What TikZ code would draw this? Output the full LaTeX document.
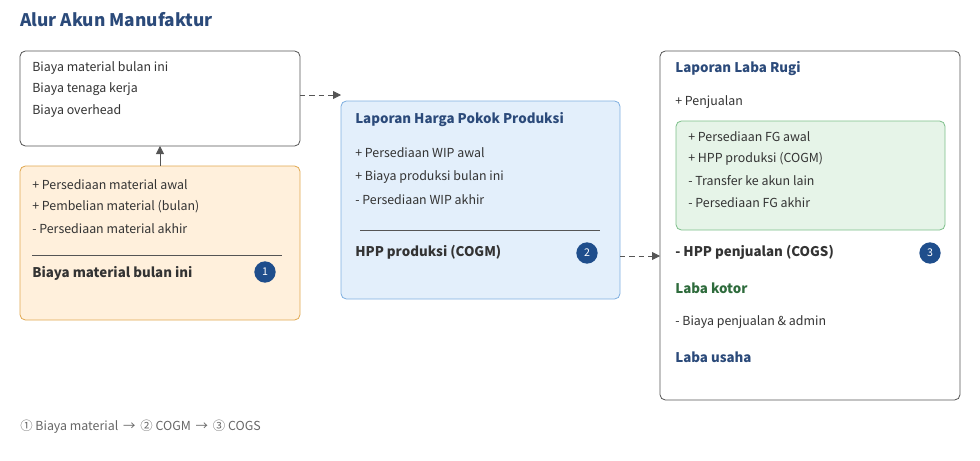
\documentclass[tikz,border=0pt]{standalone}
\usepackage{fontspec}
\setmainfont{Noto Sans CJK JP}
\usetikzlibrary{arrows.meta}
\definecolor{ttl}{HTML}{2B4A7A}
\definecolor{txt}{HTML}{333333}
\definecolor{bdr}{HTML}{555555}
\definecolor{orf}{HTML}{FFF0DC}
\definecolor{ord}{HTML}{E0A850}
\definecolor{blf}{HTML}{E3EFFB}
\definecolor{bld}{HTML}{7FAFE0}
\definecolor{grf}{HTML}{E6F4E8}
\definecolor{grd}{HTML}{7DC08A}
\definecolor{grt}{HTML}{2E6B3C}
\definecolor{bdg}{HTML}{1F4E8C}
\definecolor{foot}{HTML}{666666}
\begin{document}
\begin{tikzpicture}[x=0.75pt,y=-0.75pt,
 box/.style={rounded corners=4pt,line width=0.6pt},
 t/.style={anchor=west,inner sep=0pt,font=\fontsize{9.3}{11}\selectfont,text=txt},
 b/.style={t,font=\fontsize{10}{12}\bfseries\selectfont},
 h/.style={b,text=ttl},
 badge/.style={circle,fill=bdg,minimum size=16pt,inner sep=0pt,text=white,font=\fontsize{8}{8}\selectfont},
 con/.style={-{Triangle[length=6pt,width=6pt]},draw=bdr,line width=0.6pt},
 dcon/.style={con,dashed,dash pattern=on 4pt off 3pt}]
\useasboundingbox (0,0) rectangle (980,460);
\node[anchor=west,inner sep=0pt,text=ttl,font=\fontsize{13}{15}\bfseries\selectfont] (title) at (20,20) {Alur Akun Manufaktur};
% left top
\draw[box,draw=bdr,fill=white] (20,51) rectangle (300,146);
\coordinate (wt) at (160,146); \coordinate (wr) at (300,95);
\node[t] (a1) at (32,68) {Biaya material bulan ini};
\node[t] (a2) at (32,89) {Biaya tenaga kerja};
\node[t] (a3) at (32,111) {Biaya overhead};
% orange
\draw[box,draw=ord,fill=orf] (20,166) rectangle (300,320);
\coordinate (ot) at (160,166);
\node[t] (o1) at (32,185) {+ Persediaan material awal};
\node[t] (o2) at (32,207) {+ Pembelian material (bulan)};
\node[t] (o3) at (32,229) {- Persediaan material akhir};
\draw[bdr,line width=0.5pt] (32,255) -- (282,255);
\node[b] (o4) at (32,273) {Biaya material bulan ini};
\node[badge] (n1) at (265,272) {1};
\draw[con] (ot) -- (wt);
% blue
\draw[box,draw=bld,fill=blf] (341,101) rectangle (620,299);
\coordinate (bl) at (341,95); \coordinate (br) at (620,256);
\node[h] (b0) at (355,120) {Laporan Harga Pokok Produksi};
\node[t] (b1) at (355,153) {+ Persediaan WIP awal};
\node[t] (b2) at (355,177) {+ Biaya produksi bulan ini};
\node[t] (b3) at (355,200) {- Persediaan WIP akhir};
\draw[bdr,line width=0.5pt] (360,230) -- (600,230);
\node[b] (b4) at (355,252) {HPP produksi (COGM)};
\node[badge] (n2) at (587,253) {2};
\draw[dcon] (wr) -- (bl);
% right
\draw[box,draw=bdr,fill=white] (660,51) rectangle (960,400);
\coordinate (rl) at (660,256);
\node[h] (r0) at (675,69) {Laporan Laba Rugi};
\node[t] (r1) at (675,102) {+ Penjualan};
\draw[box,draw=grd,fill=grf] (676,121) rectangle (945,230);
\node[t] (g1) at (688,137) {+ Persediaan FG awal};
\node[t] (g2) at (688,159) {+ HPP produksi (COGM)};
\node[t] (g3) at (688,181) {- Transfer ke akun lain};
\node[t] (g4) at (688,203) {- Persediaan FG akhir};
\node[b] (r2) at (675,252) {- HPP penjualan (COGS)};
\node[badge] (n3) at (930,253) {3};
\node[b,text=grt] (r3) at (675,288) {Laba kotor};
\node[t] (r4) at (675,322) {- Biaya penjualan \& admin};
\node[h] (r5) at (675,357) {Laba usaha};
\draw[dcon] (br) -- (rl);
\node[t,text=foot] (ft) at (20,427) {① Biaya material \,→\, ② COGM \,→\, ③ COGS};
\end{tikzpicture}
\end{document}
